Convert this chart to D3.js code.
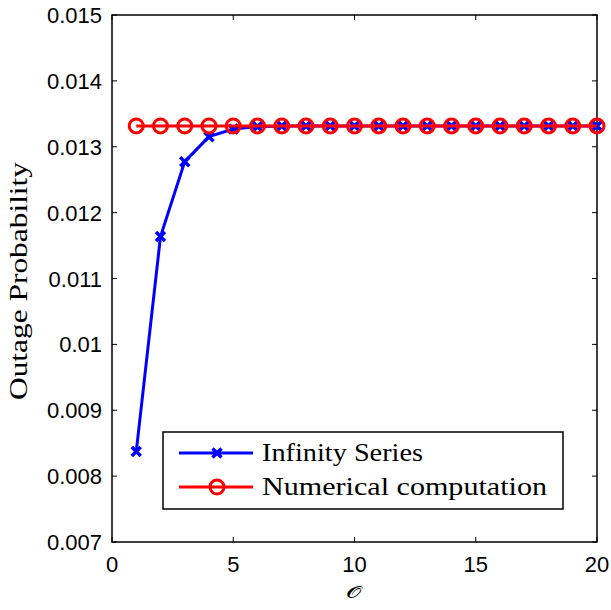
<!DOCTYPE html>
<html><head><meta charset="utf-8">
<script src="https://cdn.jsdelivr.net/npm/d3@7"></script>
<style>body{margin:0;background:#fff}</style>
</head><body>
<svg id="c" width="611" height="610"></svg>
<script>
const orders = d3.range(1, 21);
const infinitySeries = [0.008373, 0.011636, 0.012774, 0.013153, 0.013268, 0.013305, 0.013314, 0.013316, 0.013316, 0.013316,
  0.013316, 0.013316, 0.013316, 0.013316, 0.013316, 0.013316, 0.013316, 0.013316, 0.013316, 0.013316];
const numerical = [0.013316, 0.013316, 0.013316, 0.013316, 0.013316, 0.013316, 0.013316, 0.013316, 0.013316, 0.013316,
  0.013316, 0.013316, 0.013316, 0.013316, 0.013316, 0.013316, 0.013316, 0.013316, 0.013316, 0.013316];
const xTicks = [0, 5, 10, 15, 20];
const yTicks = [0.007, 0.008, 0.009, 0.01, 0.011, 0.012, 0.013, 0.014, 0.015];
const yTickLabels = ["0.007", "0.008", "0.009", "0.01", "0.011", "0.012", "0.013", "0.014", "0.015"];
const seriesNames = ["Infinity Series", "Numerical computation"];

const svg = d3.select("#c");
const L = 112, R = 597, T = 15, B = 542;
const x = d3.scaleLinear().domain([0, 20]).range([L, R]);
const y = d3.scaleLinear().domain([0.007, 0.015]).range([B, T]);
const sans = "Liberation Sans, Arial, sans-serif";
const serif = "Liberation Serif, DejaVu Serif, serif";

// axes
const g = svg.append("g");
const tl = 5;
xTicks.forEach(v => {
  g.append("line").attr("x1", x(v)).attr("x2", x(v)).attr("y1", B).attr("y2", B - tl).attr("stroke", "#000");
  g.append("line").attr("x1", x(v)).attr("x2", x(v)).attr("y1", T).attr("y2", T + tl).attr("stroke", "#000");
  g.append("text").attr("x", x(v)).attr("y", 572).attr("text-anchor", "middle")
    .attr("font-family", sans).attr("font-size", 22).text(v);
});
yTicks.forEach((v, i) => {
  g.append("line").attr("x1", L).attr("x2", L + tl).attr("y1", y(v)).attr("y2", y(v)).attr("stroke", "#000");
  g.append("line").attr("x1", R).attr("x2", R - tl).attr("y1", y(v)).attr("y2", y(v)).attr("stroke", "#000");
  g.append("text").attr("x", 102).attr("y", y(v) + 8).attr("text-anchor", "end")
    .attr("font-family", sans).attr("font-size", 22).text(yTickLabels[i]);
});
g.append("rect").attr("x", L).attr("y", T).attr("width", R - L).attr("height", B - T)
  .attr("fill", "none").attr("stroke", "#000").attr("stroke-width", 1.5);

// series
const line = d3.line().x((d, i) => x(orders[i])).y(d => y(d));
function drawX(sel, cx, cy, s, col) {
  sel.append("path").attr("d", `M${cx - s},${cy - s}L${cx + s},${cy + s}M${cx - s},${cy + s}L${cx + s},${cy - s}`)
    .attr("stroke", col).attr("stroke-width", 3.5).attr("fill", "none");
}
svg.append("path").attr("d", line(infinitySeries)).attr("fill", "none").attr("stroke", "#0000ff").attr("stroke-width", 3);
infinitySeries.forEach((d, i) => drawX(svg, x(orders[i]), y(d), 4.5, "#0000ff"));
svg.append("path").attr("d", line(numerical)).attr("fill", "none").attr("stroke", "#ff0000").attr("stroke-width", 3);
numerical.forEach((d, i) => svg.append("circle").attr("cx", x(orders[i])).attr("cy", y(d)).attr("r", 7)
  .attr("fill", "none").attr("stroke", "#ff0000").attr("stroke-width", 3));

// legend
const lg = svg.append("g");
lg.append("rect").attr("x", 163).attr("y", 432).attr("width", 400).attr("height", 77)
  .attr("fill", "#fff").attr("stroke", "#000").attr("stroke-width", 1.5);
const ly = [453, 487];
lg.append("line").attr("x1", 179).attr("x2", 253).attr("y1", ly[0]).attr("y2", ly[0]).attr("stroke", "#0000ff").attr("stroke-width", 3);
drawX(lg, 217, ly[0], 4.5, "#0000ff");
lg.append("line").attr("x1", 179).attr("x2", 253).attr("y1", ly[1]).attr("y2", ly[1]).attr("stroke", "#ff0000").attr("stroke-width", 3);
lg.append("circle").attr("cx", 217).attr("cy", ly[1]).attr("r", 7).attr("fill", "none").attr("stroke", "#ff0000").attr("stroke-width", 3);
const legendLens = [161, 285];
seriesNames.forEach((n, i) => lg.append("text").attr("x", 262).attr("y", ly[i] + 8)
  .attr("font-family", serif).attr("font-size", 25)
  .attr("textLength", legendLens[i]).attr("lengthAdjust", "spacingAndGlyphs").text(n));

// axis labels
svg.append("text").attr("transform", `translate(27,281) rotate(-90)`).attr("text-anchor", "middle")
  .attr("font-family", serif).attr("font-size", 25)
  .attr("textLength", 238).attr("lengthAdjust", "spacingAndGlyphs").text("Outage Probability");
svg.append("text").attr("transform", "translate(354,598) scale(1.5,1)").attr("text-anchor", "middle")
  .attr("font-family", serif).attr("font-size", 16).text("𝒪");
</script>
</body></html>
